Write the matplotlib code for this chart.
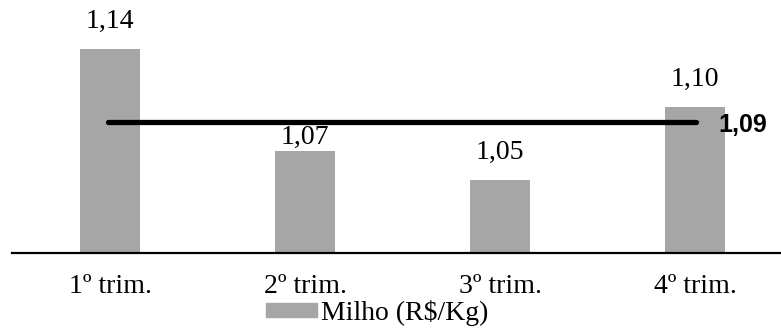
import matplotlib.pyplot as plt
from matplotlib.patches import Patch

# data
categories = ["1º trim.", "2º trim.", "3º trim.", "4º trim."]
milho = [1.14, 1.07, 1.05, 1.10]
media = 1.09
value_labels = ["1,14", "1,07", "1,05", "1,10"]
media_label = "1,09"

bar_color = "#a6a6a6"
serif = "Liberation Serif"

fig = plt.figure(figsize=(7.81, 3.29), dpi=100)
ax = fig.add_axes([12 / 781, 76 / 329, 769 / 781, 253 / 329])

x = list(range(len(categories)))
ax.bar(x, milho, width=0.31, color=bar_color, zorder=2)

# average line from first to last category
ax.plot([x[0] - 0.01, x[-1] + 0.005], [media, media], color="black",
        lw=3.8, solid_capstyle="round", zorder=3)
ax.annotate(media_label, (x[-1], media), xytext=(17, -2), textcoords="offset points",
            ha="left", va="center", fontsize=18, fontweight="bold",
            family="Liberation Sans")

# value labels (2nd one sits lower to dodge the line)
offsets = [11, 1, 11, 11]
for xi, v, lab, off in zip(x, milho, value_labels, offsets):
    ax.annotate(lab, (xi, v), xytext=(0, off), textcoords="offset points",
                ha="center", va="bottom", fontsize=20, family=serif)

ax.set_xlim(-0.5026, 3.441)
ax.set_ylim(1.0, 1.0 + 253 / 1458)
ax.set_xticks(x)
ax.set_xticklabels(categories, fontsize=20, family=serif)
ax.tick_params(axis="x", length=0, pad=15)
ax.set_yticks([])
for s in ["top", "right", "left"]:
    ax.spines[s].set_visible(False)
ax.spines["bottom"].set_linewidth(1.6)

leg = fig.legend(handles=[Patch(color=bar_color)], labels=["Milho (R$/Kg)"],
                 loc="center", bbox_to_anchor=(377 / 781, 1 - 313 / 329),
                 frameon=False, prop={"family": serif, "size": 20},
                 handlelength=1.84, handleheight=0.4, handletextpad=0.15,
                 borderpad=0, borderaxespad=0)

fig.savefig("out.png", dpi=100)
